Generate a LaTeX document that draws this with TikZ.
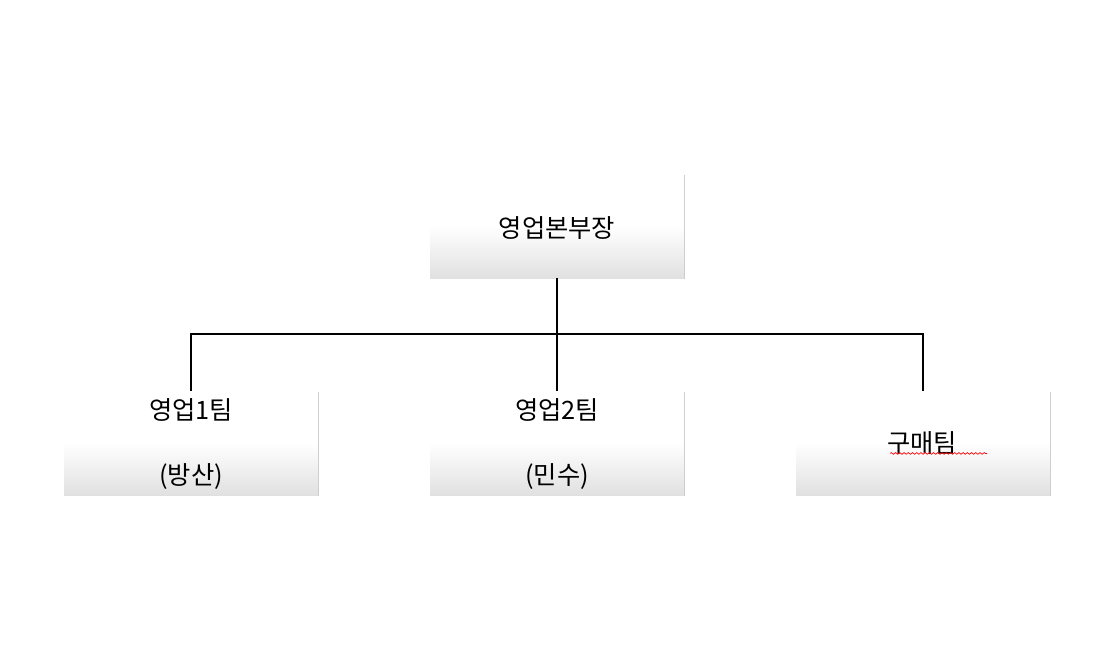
\documentclass[tikz,border=0pt]{standalone}
\usepackage{fontspec}
\setmainfont{Noto Sans CJK KR}
\usetikzlibrary{shadows,decorations.pathmorphing}
\begin{document}
\begin{tikzpicture}[x=0.025cm,y=-0.025cm,
  box/.style={draw=none,minimum width=254*0.025cm,minimum height=104*0.025cm,top color=white,bottom color=black!12,middle color=white,shading angle=0,
    drop shadow={shadow xshift=1pt,shadow yshift=-1pt,fill=black!35,opacity=0.6}},
  lbl/.style={font=\fontsize{18}{22}\selectfont},
  conn/.style={line width=1.2pt}]
\useasboundingbox (0,0) rectangle (1103,652);
\node[box] (top) at (557,226) {};
\node[box] (b1) at (191,443) {};
\node[box] (b2) at (557,443) {};
\node[box] (b3) at (923,443) {};
\node[lbl] (t0) at (557,228) {영업본부장};
\node[lbl] (t1) at (191,410) {영업1팀};
\node[lbl] (t1b) at (191,477) {(방산)};
\node[lbl] (t2) at (557,410) {영업2팀};
\node[lbl] (t2b) at (557,477) {(민수)};
\node[lbl] (t3) at (922,443) {구매팀};
\coordinate (j) at (557,334);
\draw[conn] (top.south) -- (b2.north);
\draw[conn] (b1.north) -- (b1.north |- j) -- (b3.north |- j) -- (b3.north);
\draw[red,line width=0.5pt,decorate,decoration={snake,amplitude=0.6pt,segment length=3pt}] (t3.south west)++(8,-6) -- ++(97,0);
\end{tikzpicture}
\end{document}
